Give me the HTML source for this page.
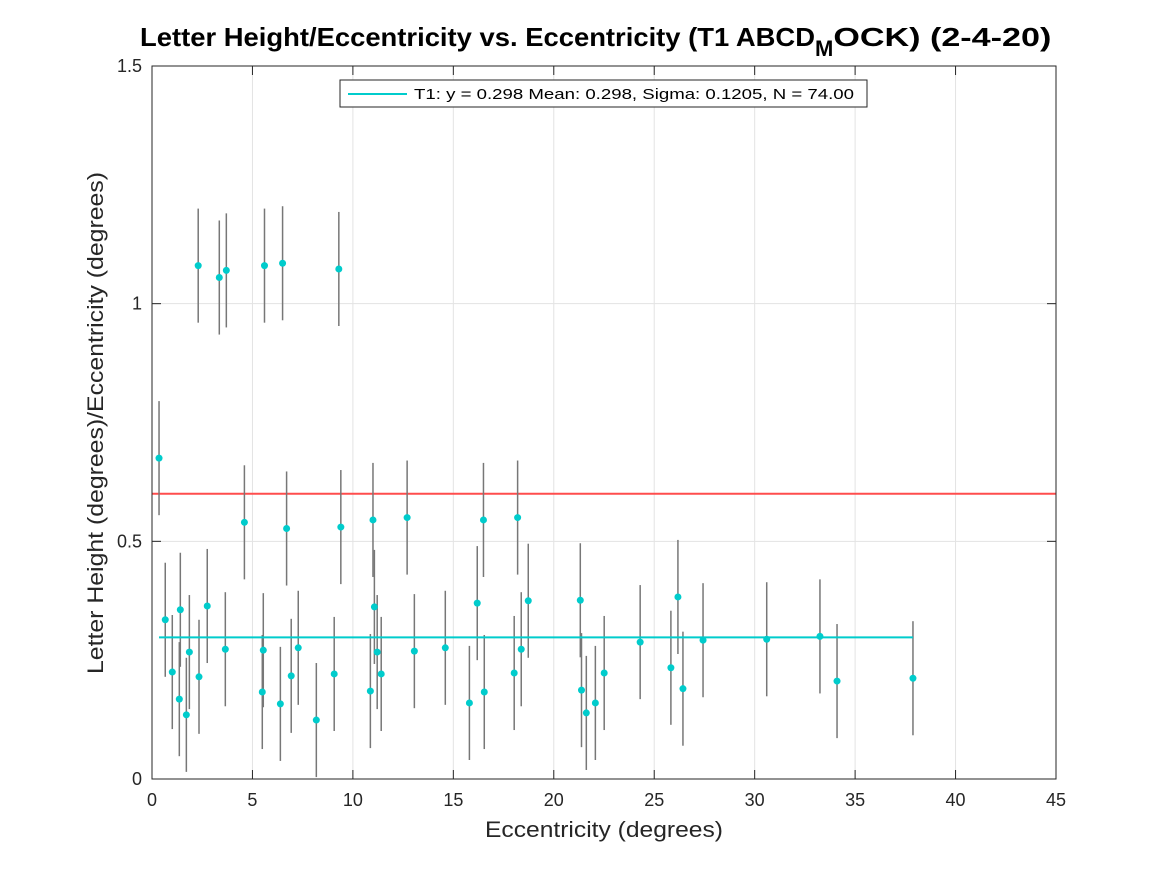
<!DOCTYPE html>
<html><head><meta charset="utf-8"><style>
body{margin:0;background:#fff;}
svg{display:block;font-family:"Liberation Sans",sans-serif;}
</style></head><body>
<svg id="chart" width="1167" height="875">
<text x="140" y="46" font-size="26" font-weight="bold"><tspan textLength="675" lengthAdjust="spacingAndGlyphs">Letter Height/Eccentricity vs. Eccentricity (T1 ABCD</tspan><tspan font-size="22" dy="10">M</tspan><tspan dy="-10" textLength="218" lengthAdjust="spacingAndGlyphs">OCK) (2-4-20)</tspan></text>
<g id="grid"></g>
<g id="marks"></g>
<rect x="152" y="66" width="904" height="713" fill="none" stroke="#262626" stroke-width="1"/>
<g id="ticks"></g>
<text x="604" y="837" text-anchor="middle" font-size="22" fill="#262626" textLength="238" lengthAdjust="spacingAndGlyphs">Eccentricity (degrees)</text>
<text transform="translate(103,423) rotate(-90)" text-anchor="middle" font-size="22" fill="#262626" textLength="502" lengthAdjust="spacingAndGlyphs">Letter Height (degrees)/Eccentricity (degrees)</text>
<g>
<rect x="340" y="80" width="527" height="27" fill="#fff" stroke="#262626" stroke-width="1"/>
<line x1="348" y1="94" x2="407" y2="94" stroke="#00cccc" stroke-width="2"/>
<text x="414" y="99" font-size="15" fill="#000" textLength="440" lengthAdjust="spacingAndGlyphs">T1: y = 0.298 Mean: 0.298, Sigma: 0.1205, N = 74.00</text>
</g>
</svg>
<script>
const xTicks=[0,5,10,15,20,25,30,35,40,45];
const yTicks=[0,0.5,1,1.5];
const yTickLabels=["0","0.5","1","1.5"];
const xs=[2.3,3.35,3.7,5.6,6.5,9.3,0.35,4.6,6.7,9.4,11.0,12.7,16.5,18.2,0.66,1.41,1.01,1.36,1.71,1.86,2.34,2.75,3.65,5.54,5.49,6.39,6.93,7.28,8.18,9.07,10.87,11.07,11.21,11.41,13.06,14.6,15.8,16.19,16.54,18.03,18.38,18.73,21.32,21.38,21.62,22.07,22.51,24.3,25.83,26.18,26.43,27.43,30.6,33.25,34.1,37.88];
const ys=[1.08,1.055,1.07,1.08,1.085,1.073,0.675,0.54,0.527,0.53,0.545,0.55,0.545,0.55,0.335,0.356,0.225,0.168,0.135,0.267,0.215,0.364,0.273,0.271,0.183,0.158,0.217,0.276,0.124,0.221,0.185,0.362,0.267,0.221,0.269,0.276,0.16,0.37,0.183,0.223,0.273,0.375,0.376,0.187,0.139,0.16,0.223,0.288,0.234,0.383,0.19,0.292,0.294,0.30,0.206,0.212];
const errs=0.12;
const fitY=0.298, fitX0=0.35, fitX1=37.88, refY=0.6;
const X=v=>152+v*904/45, Y=v=>779-v*713/1.5;
const NS="http://www.w3.org/2000/svg";
function mk(p,t,a){const e=document.createElementNS(NS,t);for(const k in a)e.setAttribute(k,a[k]);p.appendChild(e);return e;}
const grid=document.getElementById('grid'),ticks=document.getElementById('ticks'),marks=document.getElementById('marks');
xTicks.forEach(t=>{
 const g=mk(grid,'line',{x1:X(t),x2:X(t),y1:66,y2:779,stroke:'#e3e3e3'});
 
 
 mk(ticks,'line',{x1:X(t),x2:X(t),y1:779,y2:770,stroke:'#262626'});
 mk(ticks,'line',{x1:X(t),x2:X(t),y1:66,y2:75,stroke:'#262626'});
 const l=mk(ticks,'text',{x:X(t),y:806,'text-anchor':'middle','font-size':18,fill:'#262626'});l.textContent=t;
 
 
});
yTicks.forEach((t,i)=>{
 const g=mk(grid,'line',{x1:152,x2:1056,y1:Y(t),y2:Y(t),stroke:'#e3e3e3'});
 
 
 mk(ticks,'line',{x1:152,x2:161,y1:Y(t),y2:Y(t),stroke:'#262626'});
 mk(ticks,'line',{x1:1056,x2:1047,y1:Y(t),y2:Y(t),stroke:'#262626'});
 const l=mk(ticks,'text',{x:142,y:Y(t)+6,'text-anchor':'end','font-size':18,fill:'#262626'});l.textContent=yTickLabels[i];
 
 
});
const r=mk(marks,'line',{x1:152,x2:1056,y1:Y(refY),y2:Y(refY),stroke:'#ff4d4d','stroke-width':2});


xs.forEach((x,i)=>{
 const e=mk(marks,'line',{x1:X(x),x2:X(x),y1:Y(ys[i]+errs),y2:Y(Math.max(0,ys[i]-errs)),stroke:'#777','stroke-width':1.5});
 
 
});
const f=mk(marks,'line',{x1:X(fitX0),x2:X(fitX1),y1:Y(fitY),y2:Y(fitY),stroke:'#00cccc','stroke-width':2});


xs.forEach((x,i)=>{
 const c=mk(marks,'circle',{cx:X(x),cy:Y(ys[i]),r:3.5,fill:'#00cccc'});
 
 
});
</script>
</body></html>
